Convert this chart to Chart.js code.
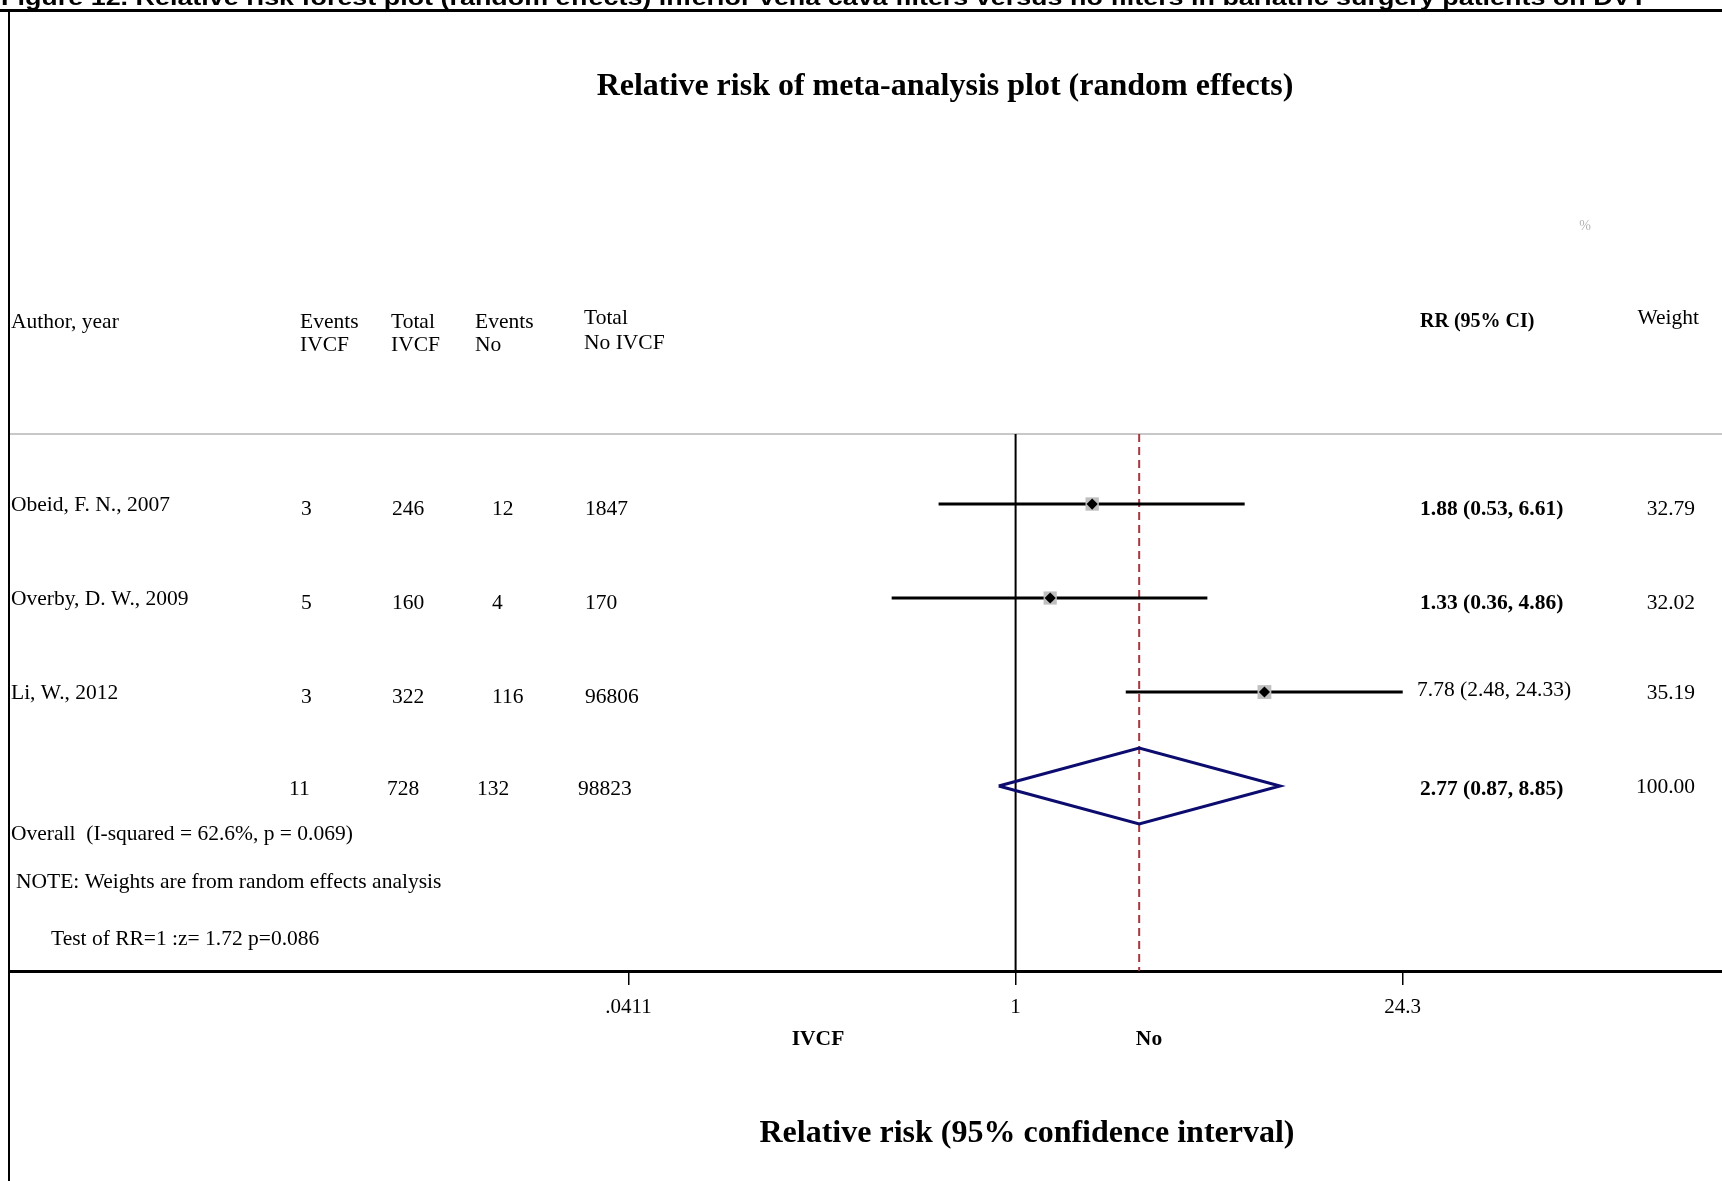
<!DOCTYPE html>
<html>
<head>
<meta charset="utf-8">
<script src="https://cdn.jsdelivr.net/npm/chart.js@4.4.1/dist/chart.umd.min.js"></script>
<style>
    html, body { margin: 0; padding: 0; background: #fff; overflow: hidden; }
    canvas { display: block; }
</style>
</head>
<body>
<canvas id="forest" width="1722" height="1181"></canvas>
<script>
(function () {
    // study rows
    const studies = ['Obeid, F. N., 2007', 'Overby, D. W., 2009', 'Li, W., 2012'];
    const eventsIvcf = [3, 5, 3];
    const totalIvcf = [246, 160, 322];
    const eventsNo = [12, 4, 116];
    const totalNo = [1847, 170, 96806];
    const rr = [1.88, 1.33, 7.78];
    const rrLow = [0.53, 0.36, 2.48];
    const rrHigh = [6.61, 4.86, 24.33];
    const weights = [32.79, 32.02, 35.19];

    // pooled row
    const overallCounts = [11, 728, 132, 98823];
    const overallRR = 2.77;
    const overallLow = 0.87;
    const overallHigh = 8.85;
    const overallWeight = 100.00;

    const tickValues = [0.0411, 1, 24.3];
    const tickLabels = ['.0411', '1', '24.3'];

    const caption = 'Figure 12. Relative risk forest plot (random effects) inferior vena cava filters versus no filters in bariatric surgery patients on DVT';
    const title = 'Relative risk of meta-analysis plot (random effects)';
    const xTitle = 'Relative risk (95% confidence interval)';

    const serif = '"Liberation Serif", "Times New Roman", serif';
    const yMin = -0.745;
    const yMax = 4.968;
    const xMin = 0.0002488;
    const xMax = 338.3;
    const overallRow = studies.length;
    const weightDy = [5, 5, 1];

    function fmt(v) {
        return v.toFixed(2);
    }

    const datasets = [];

    // black diamonds on top
    datasets.push({
        data: rr.map(function (v, i) { return { x: v, y: i }; }),
        pointStyle: 'rectRot',
        pointRadius: 5.6,
        backgroundColor: '#000',
        borderColor: '#000',
        borderWidth: 0,
        showLine: false
    });
    // weight boxes
    datasets.push({
        data: rr.map(function (v, i) { return { x: v, y: i }; }),
        pointStyle: 'rect',
        pointRadius: weights.map(function (w) { return 9.5 * Math.sqrt(w / 33.3); }),
        backgroundColor: '#bfbfbf',
        borderWidth: 0,
        showLine: false
    });
    // confidence intervals
    studies.forEach(function (s, i) {
        datasets.push({
            data: [{ x: rrLow[i], y: i }, { x: rrHigh[i], y: i }],
            showLine: true,
            borderColor: '#000',
            borderWidth: 3,
            pointRadius: 0
        });
    });
    // pooled diamond
    datasets.push({
        data: [
            { x: overallLow, y: overallRow },
            { x: overallRR, y: overallRow - 0.404 },
            { x: overallHigh, y: overallRow },
            { x: overallRR, y: overallRow + 0.404 },
            { x: overallLow, y: overallRow }
        ],
        showLine: true,
        borderColor: '#0c0c6e',
        borderWidth: 3,
        pointRadius: 0
    });
    // reference lines
    datasets.push({
        data: [{ x: overallRR, y: yMin }, { x: overallRR, y: yMax }],
        showLine: true,
        borderColor: '#a8383f',
        borderWidth: 2,
        borderDash: [8, 5],
        pointRadius: 0
    });
    datasets.push({
        data: [{ x: 1, y: yMin }, { x: 1, y: yMax }],
        showLine: true,
        borderColor: '#000',
        borderWidth: 2,
        pointRadius: 0
    });

    function text(ctx, s, x, y, font, align, color) {
        ctx.font = font;
        ctx.textAlign = align || 'left';
        ctx.fillStyle = color || '#000';
        ctx.fillText(s, x, y);
    }

    const tablePlugin = {
        id: 'forestTable',
        beforeDatasetsDraw: function (chart) {
            const ctx = chart.ctx;
            const area = chart.chartArea;
            ctx.save();
            ctx.strokeStyle = '#c8c8c8';
            ctx.lineWidth = 2;
            ctx.beginPath();
            ctx.moveTo(area.left, area.top);
            ctx.lineTo(area.right, area.top);
            ctx.stroke();
            ctx.restore();
        },
        afterDraw: function (chart) {
            const ctx = chart.ctx;
            const ys = chart.scales.y;
            const f = '21.5px ' + serif;
            const b = 'bold 21.5px ' + serif;
            ctx.save();
            ctx.textBaseline = 'middle';

            // figure caption, cut at the top edge
            ctx.save();
            ctx.font = 'bold 22px "Liberation Sans", Arial, sans-serif';
            ctx.textBaseline = 'alphabetic';
            const cw = ctx.measureText(caption).width;
            ctx.translate(1, 5);
            ctx.scale(1646 / cw, 1);
            ctx.fillStyle = '#000';
            ctx.fillText(caption, 0, 0);
            ctx.restore();

            // frame
            ctx.fillStyle = '#000';
            ctx.fillRect(0, 9, 1722, 3);
            ctx.fillRect(8, 9, 2, 1172);

            text(ctx, title, 945, 87, 'bold 32px ' + serif, 'center');

            // header
            text(ctx, '%', 1585, 226, '14px ' + serif, 'center', '#b4b4b4');
            text(ctx, 'Author, year', 11, 322, f);
            text(ctx, 'Events', 300, 322, f);
            text(ctx, 'IVCF', 300, 345, f);
            text(ctx, 'Total', 391, 322, f);
            text(ctx, 'IVCF', 391, 345, f);
            text(ctx, 'Events', 475, 322, f);
            text(ctx, 'No', 475, 345, f);
            text(ctx, 'Total', 584, 318, f);
            text(ctx, 'No IVCF', 584, 343, f);
            text(ctx, 'RR (95% CI)', 1420, 322, 'bold 20px ' + serif);
            text(ctx, 'Weight', 1699, 318, f, 'right');

            // study rows
            const numX = [301, 392, 492, 585];
            studies.forEach(function (s, i) {
                const y = ys.getPixelForValue(i);
                const vals = [eventsIvcf[i], totalIvcf[i], eventsNo[i], totalNo[i]];
                text(ctx, s, 11, y + 1, f);
                vals.forEach(function (v, k) {
                    text(ctx, String(v), numX[k], y + 5, f);
                });
                const label = fmt(rr[i]) + ' (' + fmt(rrLow[i]) + ', ' + fmt(rrHigh[i]) + ')';
                // the wide interval row is set in regular weight in the reference
                const bold = rrHigh[i] < 20;
                text(ctx, label, bold ? 1420 : 1417, bold ? y + 5 : y - 2, bold ? b : f);
                text(ctx, fmt(weights[i]), 1695, y + weightDy[i], f, 'right');
            });

            // pooled row
            const yo = ys.getPixelForValue(overallRow);
            const totX = [289, 387, 477, 578];
            overallCounts.forEach(function (v, k) {
                text(ctx, String(v), totX[k], yo + 3, f);
            });
            text(ctx, fmt(overallRR) + ' (' + fmt(overallLow) + ', ' + fmt(overallHigh) + ')', 1420, yo + 3, b);
            text(ctx, overallWeight.toFixed(2), 1695, yo + 1, f, 'right');

            text(ctx, 'Overall  (I-squared = 62.6%, p = 0.069)', 11, 834, f);
            text(ctx, 'NOTE: Weights are from random effects analysis', 16, 882, f);
            text(ctx, 'Test of RR=1 :z= 1.72 p=0.086', 51, 939, f);

            // axis side labels
            text(ctx, 'IVCF', 818, 1039, b, 'center');
            text(ctx, 'No', 1149, 1039, b, 'center');
            text(ctx, xTitle, 1027, 1134, 'bold 32px ' + serif, 'center');
            ctx.restore();
        }
    };

    new Chart(document.getElementById('forest').getContext('2d'), {
        type: 'scatter',
        data: { datasets: datasets },
        options: {
            responsive: false,
            animation: false,
            devicePixelRatio: 1,
            layout: { autoPadding: false, padding: { left: 9, top: 434, right: 0, bottom: 0 } },
            plugins: {
                legend: { display: false },
                tooltip: { enabled: false }
            },
            scales: {
                x: {
                    type: 'logarithmic',
                    min: xMin,
                    max: xMax,
                    afterBuildTicks: function (scale) {
                        scale.ticks = tickValues.map(function (v) { return { value: v }; });
                    },
                    afterFit: function (scale) {
                        scale.height = 210;
                        scale.paddingLeft = 0;
                        scale.paddingRight = 0;
                    },
                    grid: {
                        drawOnChartArea: false,
                        drawTicks: true,
                        tickLength: 14,
                        color: '#000',
                        lineWidth: 1.5
                    },
                    border: { display: true, color: '#000', width: 3 },
                    ticks: {
                        color: '#000',
                        font: { family: serif, size: 21 },
                        padding: 10,
                        maxRotation: 0,
                        autoSkip: false,
                        callback: function (v, i) { return tickLabels[i]; }
                    }
                },
                y: {
                    type: 'linear',
                    display: false,
                    reverse: true,
                    min: yMin,
                    max: yMax
                }
            }
        },
        plugins: [tablePlugin]
    });
})();
</script>
</body>
</html>
